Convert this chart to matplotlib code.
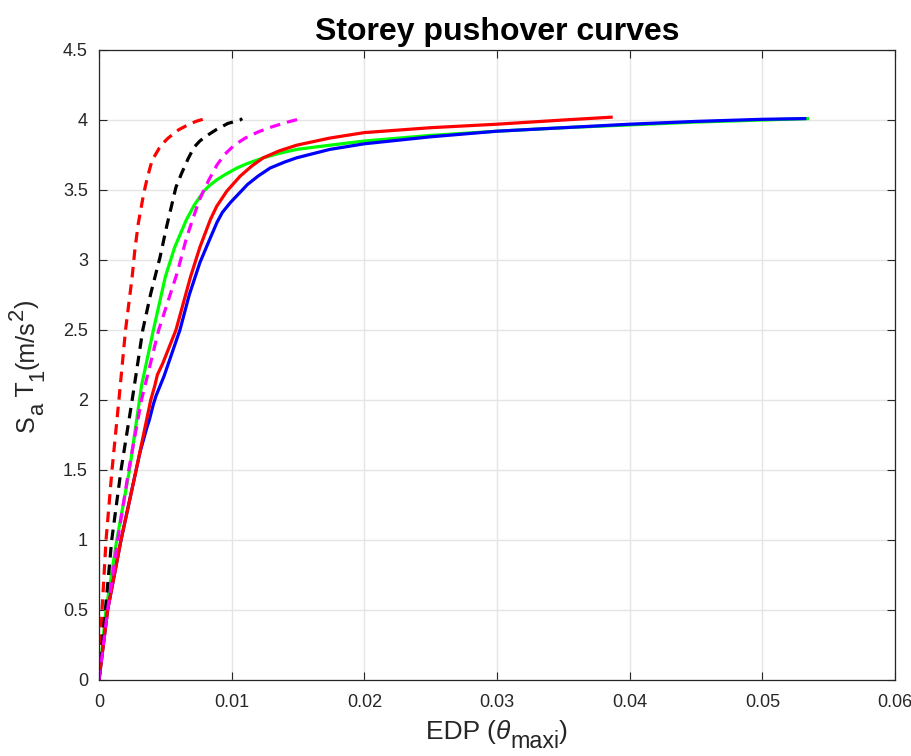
import matplotlib
matplotlib.use("Agg")
import matplotlib.pyplot as plt
from matplotlib.transforms import IdentityTransform

# storey pushover curves (EDP, Sa*T1)
rd_x = [0, 0.00023, 0.00053, 0.00098, 0.0015, 0.0020, 0.0025, 0.0027, 0.00296, 0.00336,
        0.0036, 0.00384, 0.0040, 0.0043, 0.00455, 0.00485, 0.0052, 0.0056, 0.0060, 0.0065,
        0.0073, 0.0080]
rd_y = [0, 0.5, 1.0, 1.5, 2.0, 2.5, 2.88, 3.07, 3.26, 3.47,
        3.57, 3.657, 3.71, 3.76, 3.80, 3.836, 3.87, 3.90, 3.93, 3.955,
        3.99, 4.01]

kd_x = [0, 0.00048, 0.00096, 0.00166, 0.0025, 0.0033, 0.0039, 0.0046, 0.0051, 0.00555,
        0.0058, 0.00623, 0.0067, 0.00716, 0.0076, 0.0080, 0.00882, 0.0097, 0.01063, 0.0108]
kd_y = [0, 0.5, 1.0, 1.5, 2.0, 2.5, 2.76, 3.02, 3.24, 3.42,
        3.52, 3.62, 3.72, 3.805, 3.85, 3.88, 3.93, 3.975, 4.0, 4.01]

md_x = [0, 0.00065, 0.00141, 0.00224, 0.0032, 0.0045, 0.0059, 0.0066, 0.00748, 0.0079,
        0.00836, 0.0089, 0.0095, 0.0102, 0.0110, 0.0120, 0.0130, 0.0140, 0.01502, 0.0153]
md_y = [0, 0.5, 1.0, 1.5, 2.0, 2.5, 2.91, 3.16, 3.407, 3.50,
        3.586, 3.68, 3.757, 3.82, 3.87, 3.915, 3.95, 3.98, 4.005, 4.01]

g_x = [0, 0.00053, 0.00134, 0.0023, 0.0032, 0.0041, 0.0050, 0.0057, 0.0066, 0.0072,
       0.0076, 0.0079, 0.0083, 0.0089, 0.0095, 0.0104, 0.0112, 0.0124, 0.0135, 0.0149,
       0.0174, 0.0200, 0.025, 0.030, 0.035, 0.040, 0.045, 0.050, 0.0534]
g_y = [0, 0.5, 1.0, 1.5, 2.1, 2.5, 2.88, 3.09, 3.29, 3.395,
       3.45, 3.49, 3.53, 3.574, 3.61, 3.657, 3.69, 3.73, 3.76, 3.79,
       3.82, 3.85, 3.89, 3.92, 3.945, 3.965, 3.985, 4.0, 4.01]

b_x = [0, 0.00065, 0.00166, 0.0028, 0.0031, 0.0036, 0.0038, 0.0041, 0.0043, 0.0049,
       0.0061, 0.0068, 0.0076, 0.0084, 0.0089, 0.0093, 0.0099, 0.0106, 0.0112, 0.0120,
       0.0129, 0.0140, 0.0149, 0.0174, 0.0200, 0.025, 0.030, 0.035, 0.040, 0.045,
       0.050, 0.0532]
b_y = [0, 0.5, 1.0, 1.5, 1.63, 1.80, 1.86, 1.97, 2.03, 2.17,
       2.5, 2.75, 2.98, 3.16, 3.27, 3.34, 3.41, 3.48, 3.54, 3.60,
       3.657, 3.70, 3.73, 3.79, 3.83, 3.88, 3.92, 3.945, 3.97, 3.99,
       4.005, 4.01]

r_x = [0, 0.00065, 0.00166, 0.0028, 0.0039, 0.0042, 0.0044, 0.0048, 0.0058, 0.0069,
       0.0076, 0.0084, 0.00887, 0.00962, 0.01063, 0.0115, 0.01238, 0.0136, 0.0149, 0.0174,
       0.0200, 0.025, 0.030, 0.035, 0.0386]
r_y = [0, 0.5, 1.0, 1.5, 2.0, 2.1, 2.18, 2.26, 2.5, 2.88,
       3.09, 3.29, 3.383, 3.49, 3.598, 3.67, 3.73, 3.78, 3.82, 3.871,
       3.91, 3.945, 3.97, 4.0, 4.02]

x_ticks = [0, 0.01, 0.02, 0.03, 0.04, 0.05, 0.06]
y_ticks = [0, 0.5, 1, 1.5, 2, 2.5, 3, 3.5, 4, 4.5]

# label pieces: (text, size scale, baseline shift in em, style)
xlabel_parts = [('EDP (', 1.0, 0.0, 'normal'), ('\u03b8', 1.0, 0.0, 'italic'),
                ('maxi', 0.88, -0.33, 'normal'), (')', 1.0, 0.0, 'normal')]
ylabel_parts = [('S', 1.0, 0.0, 'normal'), ('a', 0.88, -0.38, 'normal'),
                (' T', 1.0, 0.0, 'normal'), ('1', 0.88, -0.38, 'normal'),
                ('(m/s', 1.0, 0.0, 'normal'), ('2', 0.88, 0.45, 'normal'),
                (')', 1.0, 0.0, 'normal')]

plt.rcParams['font.family'] = ['Liberation Sans', 'DejaVu Sans']

axc = '#262626'
W, H = 912, 756
fig = plt.figure(figsize=(W / 100, H / 100), dpi=100)
ax = fig.add_axes([99 / W, 76 / H, 796 / W, 630 / H])

lw = 2.3
dash = (3.3, 2.2)
ax.plot(g_x, g_y, color='#00ff00', linewidth=lw)
ax.plot(b_x, b_y, color='#0000ff', linewidth=lw)
ax.plot(r_x, r_y, color='#ff0000', linewidth=lw)
ax.plot(rd_x, rd_y, color='#ff0000', linewidth=lw, dashes=dash)
ax.plot(kd_x, kd_y, color='#000000', linewidth=lw, dashes=dash)
ax.plot(md_x, md_y, color='#ff00ff', linewidth=lw, dashes=dash)

ax.set_xlim(0, 0.06)
ax.set_ylim(0, 4.5)
ax.set_xticks(x_ticks)
ax.set_yticks(y_ticks)
ax.set_xticklabels([f'{t:g}' for t in x_ticks])
ax.set_yticklabels([f'{t:g}' for t in y_ticks])
ax.grid(True, color='#e5e5e5', linewidth=1.0)
ax.set_axisbelow(True)

ax.tick_params(direction='in', length=6, width=0.8, color=axc, labelcolor=axc,
               labelsize=13, top=True, right=True)
ax.tick_params(axis='x', pad=10)
ax.tick_params(axis='y', pad=8)
for s in ax.spines.values():
    s.set_color(axc)
    s.set_linewidth(0.9)

ax.set_title('Storey pushover curves', fontsize=23, fontweight='bold', pad=7)


def rich_label(parts, size, center, base, vertical=False):
    # MATLAB-like tex label: subscripts kept large and dropped well below the baseline
    r = fig.canvas.get_renderer()
    placed = []
    pos = 0
    for txt, sc, shift, style in parts:
        t = fig.text(0, 0, txt, fontsize=size * sc, style=style, color=axc,
                     transform=IdentityTransform(), ha='left', va='baseline',
                     rotation=90 if vertical else 0, rotation_mode='anchor')
        ext = t.get_window_extent(r)
        placed.append((t, pos, shift * size * 100 / 72))
        pos += ext.height if vertical else ext.width
    start = center - pos / 2
    for t, p, sh in placed:
        if vertical:
            t.set_position((base - sh, start + p))
        else:
            t.set_position((start + p, base + sh))


rich_label(xlabel_parts, 19, 497, 17)
rich_label(ylabel_parts, 18, 390, 34, vertical=True)

fig.savefig('out.png', dpi=100)
